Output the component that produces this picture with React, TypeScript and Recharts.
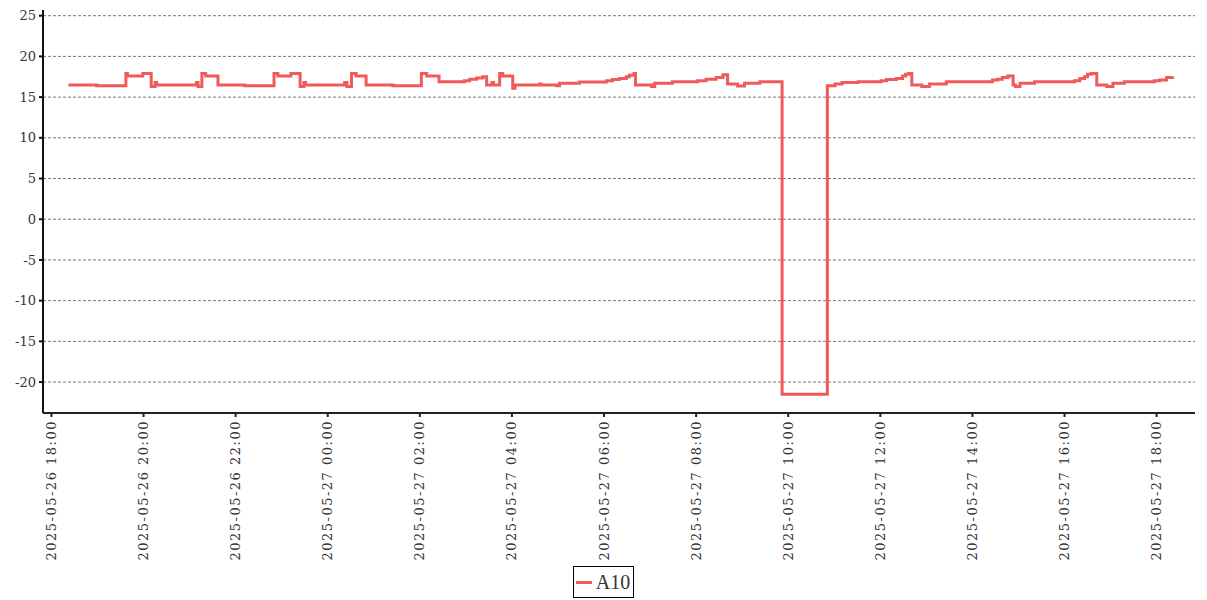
import { LineChart, Line, XAxis, YAxis, CartesianGrid, Legend } from 'recharts'

// sample times (local clock of the logger) and the A10 reading at each step
const times = [
	'2025-05-26 18:22', '2025-05-26 18:59', '2025-05-26 19:37', '2025-05-26 19:39', '2025-05-26 19:59',
	'2025-05-26 20:10', '2025-05-26 20:15', '2025-05-26 20:17', '2025-05-26 21:09', '2025-05-26 21:11',
	'2025-05-26 21:16', '2025-05-26 21:21', '2025-05-26 21:37', '2025-05-26 22:12', '2025-05-26 22:50',
	'2025-05-26 22:55', '2025-05-26 23:12', '2025-05-26 23:24', '2025-05-26 23:29', '2025-05-26 23:31',
	'2025-05-27 00:22', '2025-05-27 00:25', '2025-05-27 00:31', '2025-05-27 00:37', '2025-05-27 00:50',
	'2025-05-27 01:25', '2025-05-27 02:02', '2025-05-27 02:09', '2025-05-27 02:25', '2025-05-27 02:58',
	'2025-05-27 03:05', '2025-05-27 03:14', '2025-05-27 03:22', '2025-05-27 03:27', '2025-05-27 03:34',
	'2025-05-27 03:36', '2025-05-27 03:44', '2025-05-27 03:48', '2025-05-27 04:01', '2025-05-27 04:04',
	'2025-05-27 04:36', '2025-05-27 04:38', '2025-05-27 04:58', '2025-05-27 05:02', '2025-05-27 05:28',
	'2025-05-27 06:03', '2025-05-27 06:11', '2025-05-27 06:20', '2025-05-27 06:29', '2025-05-27 06:33',
	'2025-05-27 06:39', '2025-05-27 06:41', '2025-05-27 07:02', '2025-05-27 07:06', '2025-05-27 07:29',
	'2025-05-27 08:02', '2025-05-27 08:13', '2025-05-27 08:26', '2025-05-27 08:35', '2025-05-27 08:41',
	'2025-05-27 08:54', '2025-05-27 09:03', '2025-05-27 09:23', '2025-05-27 09:52', '2025-05-27 10:51',
	'2025-05-27 11:01', '2025-05-27 11:10', '2025-05-27 11:31', '2025-05-27 12:01', '2025-05-27 12:08',
	'2025-05-27 12:21', '2025-05-27 12:29', '2025-05-27 12:33', '2025-05-27 12:37', '2025-05-27 12:41',
	'2025-05-27 12:54', '2025-05-27 13:04', '2025-05-27 13:26', '2025-05-27 14:26', '2025-05-27 14:33',
	'2025-05-27 14:39', '2025-05-27 14:46', '2025-05-27 14:53', '2025-05-27 14:56', '2025-05-27 15:02',
	'2025-05-27 15:21', '2025-05-27 16:13', '2025-05-27 16:20', '2025-05-27 16:26', '2025-05-27 16:30',
	'2025-05-27 16:35', '2025-05-27 16:42', '2025-05-27 16:55', '2025-05-27 17:03', '2025-05-27 17:18',
	'2025-05-27 17:57', '2025-05-27 18:04', '2025-05-27 18:13', '2025-05-27 18:21',
]

const a10 = [
	16.5, 16.4, 17.9, 17.6, 17.9,
	16.3, 16.8, 16.5, 16.8, 16.3,
	17.9, 17.6, 16.5, 16.4, 17.9,
	17.6, 17.9, 16.3, 16.8, 16.5,
	16.8, 16.3, 17.9, 17.6, 16.5,
	16.4, 17.9, 17.6, 16.9, 17.0,
	17.2, 17.35, 17.5, 16.5, 16.8,
	16.5, 17.9, 17.6, 16.1, 16.5,
	16.6, 16.5, 16.4, 16.7, 16.85,
	17.0, 17.15, 17.3, 17.5, 17.7,
	17.9, 16.5, 16.3, 16.7, 16.9,
	17.0, 17.2, 17.4, 17.75, 16.6,
	16.35, 16.7, 16.9, -21.5, 16.4,
	16.6, 16.8, 16.9, 17.0, 17.15,
	17.3, 17.6, 17.8, 17.9, 16.5,
	16.3, 16.6, 16.9, 17.1, 17.2,
	17.4, 17.6, 16.5, 16.3, 16.7,
	16.9, 17.0, 17.3, 17.5, 17.8,
	17.9, 16.5, 16.3, 16.7, 16.9,
	17.0, 17.1, 17.4, 17.5,
]

const tickTimes = [
	'2025-05-26 18:00', '2025-05-26 20:00', '2025-05-26 22:00', '2025-05-27 00:00',
	'2025-05-27 02:00', '2025-05-27 04:00', '2025-05-27 06:00', '2025-05-27 08:00',
	'2025-05-27 10:00', '2025-05-27 12:00', '2025-05-27 14:00', '2025-05-27 16:00',
	'2025-05-27 18:00',
]

const yTicks = [-20, -15, -10, -5, 0, 5, 10, 15, 20, 25]

const lineColor = '#f05a5a'

const toMs = (s: string) => {
	const [d, t] = s.split(' ')
	const [Y, M, D] = d.split('-').map(Number)
	const [h, m] = t.split(':').map(Number)
	return Date.UTC(Y, M - 1, D, h, m)
}

const pad = (n: number) => String(n).padStart(2, '0')

const fmt = (ms: number) => {
	const d = new Date(ms)
	return `${d.getUTCFullYear()}-${pad(d.getUTCMonth() + 1)}-${pad(d.getUTCDate())} ${pad(d.getUTCHours())}:${pad(d.getUTCMinutes())}`
}

const data = times.map((t, i) => ({ time: toMs(t), A10: a10[i] }))

const DateTick = (props: any) => {
	const { x, y, payload } = props
	return (
		<text
			x={x}
			y={y}
			dy="0.35em"
			textAnchor="end"
			transform={`rotate(-90, ${x}, ${y})`}
			fontFamily="DejaVu Serif"
			fontSize={13}
			letterSpacing={1.5}
			fill="#333"
		>
			{fmt(payload.value)}
		</text>
	)
}

const renderLegend = () => (
	<div style={{ display: 'flex', justifyContent: 'center' }}>
		<div
			style={{
				border: '1px solid #000',
				display: 'flex',
				alignItems: 'center',
				padding: '1px 3px 1px 2px',
				fontFamily: 'Liberation Serif',
				fontSize: 20,
				color: '#333',
				lineHeight: '28px',
				marginLeft: 4,
			}}
		>
			<span style={{ display: 'inline-block', width: 16, height: 3, background: lineColor, marginRight: 4 }} />
			A10
		</div>
	</div>
)

export default function App() {
	return (
		<LineChart width={1191} height={592} data={data} margin={{ top: 2, right: 4, left: 0, bottom: 2 }}>
			<CartesianGrid vertical={false} horizontalValues={yTicks} stroke="#777" strokeDasharray="3 2" />
			<XAxis
				dataKey="time"
				type="number"
				scale="time"
				domain={[toMs('2025-05-26 17:49'), toMs('2025-05-27 18:50')]}
				ticks={tickTimes.map(toMs)}
				tick={<DateTick />}
				interval={0}
				height={153}
				tickSize={4}
				tickMargin={3}
				stroke="#222"
				strokeWidth={2}
				allowDataOverflow
			/>
			<YAxis
				type="number"
				domain={[-23.8, 25.7]}
				ticks={yTicks}
				interval={0}
				width={35}
				tickSize={4}
				tickMargin={3}
				stroke="#111"
				strokeWidth={2}
				tick={{ fill: '#333', fontFamily: 'DejaVu Serif', fontSize: 13 }}
				allowDataOverflow
			/>
			<Legend verticalAlign="bottom" content={renderLegend} />
			<Line
				type="stepAfter"
				dataKey="A10"
				stroke={lineColor}
				strokeWidth={3}
				dot={false}
				isAnimationActive={false}
			/>
		</LineChart>
	)
}
